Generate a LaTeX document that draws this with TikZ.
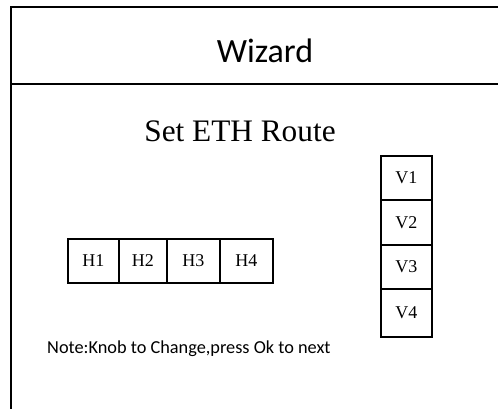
\documentclass[tikz,border=0pt]{standalone}
\usepackage{fontspec}
\setmainfont{Liberation Serif}
\newfontfamily\uifont{Carlito}
\begin{document}
\begin{tikzpicture}[x=1pt,y=-1pt,
  frame/.style={line width=2.2pt},
  cell/.style={draw,line width=1.8pt,minimum width=#1,minimum height=44pt,inner sep=0pt,font=\fontsize{18}{18}\selectfont,anchor=north west},
  vcell/.style={draw,line width=1.8pt,minimum width=51pt,minimum height=#1,inner sep=0pt,font=\fontsize{18}{18}\selectfont,anchor=north west}]
\useasboundingbox (0,0) rectangle (498,409);
\coordinate (tl) at (11,7);
\coordinate (tr) at (498,7);
\coordinate (bl) at (11,409);
\coordinate (dl) at (11,84);
\coordinate (dr) at (498,84);
\draw[frame] (tr) -- (tl) -- (bl);
\draw[frame] (dl) -- (dr);
\node[anchor=base,font=\uifont\fontsize{34}{34}\selectfont,inner sep=0pt] (wiz) at (265,63) {Wizard};
\node[anchor=base,font=\fontsize{31.3}{31.3}\selectfont,inner sep=0pt] (title) at (240,142) {Set ETH Route};
\node[cell=51pt] (h1) at (67,238) {H1};
\node[cell=48pt] (h2) at (118,238) {H2};
\node[cell=53pt] (h3) at (166,238) {H3};
\node[cell=53pt] (h4) at (219,238) {H4};
\node[vcell=44pt] (v1) at (380,155) {V1};
\node[vcell=45pt] (v2) at (380,199) {V2};
\node[vcell=44pt] (v3) at (380,244) {V3};
\node[vcell=48pt] (v4) at (380,288) {V4};
\node[anchor=base west,font=\uifont\fontsize{18.3}{18.3}\selectfont,inner sep=0pt] (note) at (47,353) {Note:Knob to Change,press Ok to next};
\end{tikzpicture}
\end{document}
